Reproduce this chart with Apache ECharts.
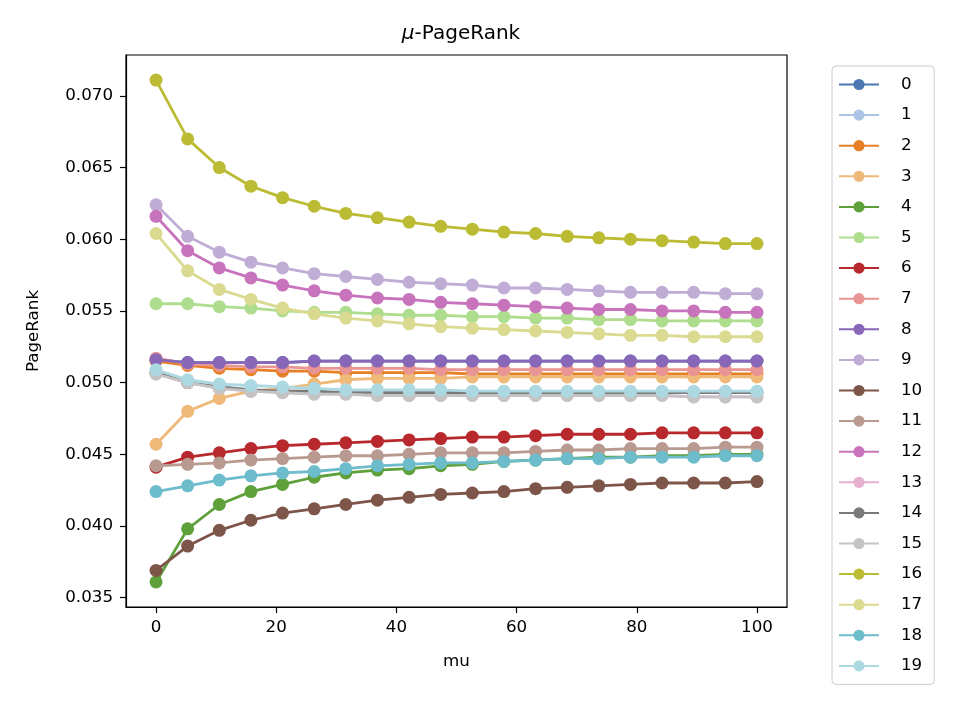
<!DOCTYPE html>
<html>
<head>
<meta charset="utf-8">
<script src="https://cdn.jsdelivr.net/npm/echarts@6/dist/echarts.min.js"></script>
<style>
html, body { margin: 0; padding: 0; background: #fff; }
#chart { width: 960px; height: 720px; }
</style>
</head>
<body>
<div id="chart"></div>
<script>
// mu values (x axis)
const muValues = [0, 5.26, 10.53, 15.79, 21.05, 26.32, 31.58, 36.84, 42.11, 47.37,
    52.63, 57.89, 63.16, 68.42, 73.68, 78.95, 84.21, 89.47, 94.74, 100];

const xTicks = [0, 20, 40, 60, 80, 100];
const yTicks = [0.035, 0.040, 0.045, 0.050, 0.055, 0.060, 0.065, 0.070];

const seriesNames = ["0", "1", "2", "3", "4", "5", "6", "7", "8", "9",
    "10", "11", "12", "13", "14", "15", "16", "17", "18", "19"];

const colors = ["#4a77b4", "#aec4e6", "#e77f24", "#efb97a", "#5ea03a",
    "#aedd8e", "#b8292e", "#e89594", "#8866b8", "#bfadd5",
    "#7e5549", "#b89a91", "#c874bd", "#e5b1cf", "#7a7a7a",
    "#c4c4c4", "#bcbb34", "#dadb90", "#6dbccc", "#acd8e2"];

// PageRank per node, one array per series
const pr0 = [0.0516, 0.0514, 0.0514, 0.0514, 0.0514, 0.0515, 0.0515, 0.0515, 0.0515, 0.0515, 0.0515, 0.0515, 0.0515, 0.0515, 0.0515, 0.0515, 0.0515, 0.0515, 0.0515, 0.0515];
const pr1 = [0.0507, 0.0500, 0.0497, 0.0495, 0.0494, 0.0494, 0.0493, 0.0493, 0.0493, 0.0493, 0.0493, 0.0493, 0.0493, 0.0493, 0.0493, 0.0493, 0.0493, 0.0493, 0.0493, 0.0493];
const pr2 = [0.0515, 0.0512, 0.0510, 0.0509, 0.0508, 0.0508, 0.0507, 0.0507, 0.0507, 0.0507, 0.0506, 0.0506, 0.0506, 0.0506, 0.0506, 0.0506, 0.0506, 0.0506, 0.0506, 0.0506];
const pr3 = [0.0457, 0.0480, 0.0489, 0.0494, 0.0496, 0.0499, 0.0502, 0.0503, 0.0503, 0.0503, 0.0504, 0.0504, 0.0504, 0.0504, 0.0504, 0.0504, 0.0504, 0.0504, 0.0504, 0.0504];
const pr4 = [0.0361, 0.0398, 0.0415, 0.0424, 0.0429, 0.0434, 0.0437, 0.0439, 0.0440, 0.0442, 0.0443, 0.0445, 0.0446, 0.0447, 0.0448, 0.0448, 0.0449, 0.0449, 0.0450, 0.0450];
const pr5 = [0.0555, 0.0555, 0.0553, 0.0552, 0.0550, 0.0549, 0.0549, 0.0548, 0.0547, 0.0547, 0.0546, 0.0546, 0.0545, 0.0545, 0.0544, 0.0544, 0.0543, 0.0543, 0.0543, 0.0543];
const pr6 = [0.0441, 0.0448, 0.0451, 0.0454, 0.0456, 0.0457, 0.0458, 0.0459, 0.0460, 0.0461, 0.0462, 0.0462, 0.0463, 0.0464, 0.0464, 0.0464, 0.0465, 0.0465, 0.0465, 0.0465];
const pr7 = [0.0517, 0.0513, 0.0512, 0.0511, 0.0511, 0.0510, 0.0510, 0.0510, 0.0510, 0.0509, 0.0509, 0.0509, 0.0509, 0.0509, 0.0509, 0.0509, 0.0509, 0.0509, 0.0509, 0.0509];
const pr8 = [0.0516, 0.0514, 0.0514, 0.0514, 0.0514, 0.0515, 0.0515, 0.0515, 0.0515, 0.0515, 0.0515, 0.0515, 0.0515, 0.0515, 0.0515, 0.0515, 0.0515, 0.0515, 0.0515, 0.0515];
const pr9 = [0.0624, 0.0602, 0.0591, 0.0584, 0.0580, 0.0576, 0.0574, 0.0572, 0.0570, 0.0569, 0.0568, 0.0566, 0.0566, 0.0565, 0.0564, 0.0563, 0.0563, 0.0563, 0.0562, 0.0562];
const pr10 = [0.0369, 0.0386, 0.0397, 0.0404, 0.0409, 0.0412, 0.0415, 0.0418, 0.0420, 0.0422, 0.0423, 0.0424, 0.0426, 0.0427, 0.0428, 0.0429, 0.0430, 0.0430, 0.0430, 0.0431];
const pr11 = [0.0442, 0.0443, 0.0444, 0.0446, 0.0447, 0.0448, 0.0449, 0.0449, 0.0450, 0.0451, 0.0451, 0.0451, 0.0452, 0.0453, 0.0453, 0.0454, 0.0454, 0.0454, 0.0455, 0.0455];
const pr12 = [0.0616, 0.0592, 0.0580, 0.0573, 0.0568, 0.0564, 0.0561, 0.0559, 0.0558, 0.0556, 0.0555, 0.0554, 0.0553, 0.0552, 0.0551, 0.0551, 0.0550, 0.0550, 0.0549, 0.0549];
const pr13 = [0.0506, 0.0500, 0.0496, 0.0494, 0.0493, 0.0492, 0.0492, 0.0491, 0.0491, 0.0491, 0.0491, 0.0491, 0.0491, 0.0491, 0.0491, 0.0491, 0.0491, 0.0490, 0.0490, 0.0490];
const pr14 = [0.0507, 0.0500, 0.0497, 0.0495, 0.0494, 0.0494, 0.0493, 0.0493, 0.0493, 0.0493, 0.0493, 0.0493, 0.0493, 0.0493, 0.0493, 0.0493, 0.0493, 0.0493, 0.0493, 0.0493];
const pr15 = [0.0506, 0.0500, 0.0496, 0.0494, 0.0493, 0.0492, 0.0492, 0.0491, 0.0491, 0.0491, 0.0491, 0.0491, 0.0491, 0.0491, 0.0491, 0.0491, 0.0491, 0.0490, 0.0490, 0.0490];
const pr16 = [0.0711, 0.0670, 0.0650, 0.0637, 0.0629, 0.0623, 0.0618, 0.0615, 0.0612, 0.0609, 0.0607, 0.0605, 0.0604, 0.0602, 0.0601, 0.0600, 0.0599, 0.0598, 0.0597, 0.0597];
const pr17 = [0.0604, 0.0578, 0.0565, 0.0558, 0.0552, 0.0548, 0.0545, 0.0543, 0.0541, 0.0539, 0.0538, 0.0537, 0.0536, 0.0535, 0.0534, 0.0533, 0.0533, 0.0532, 0.0532, 0.0532];
const pr18 = [0.0424, 0.0428, 0.0432, 0.0435, 0.0437, 0.0438, 0.0440, 0.0442, 0.0443, 0.0444, 0.0444, 0.0445, 0.0446, 0.0447, 0.0447, 0.0448, 0.0448, 0.0448, 0.0449, 0.0449];
const pr19 = [0.0509, 0.0502, 0.0499, 0.0498, 0.0497, 0.0496, 0.0495, 0.0495, 0.0495, 0.0495, 0.0494, 0.0494, 0.0494, 0.0494, 0.0494, 0.0494, 0.0494, 0.0494, 0.0494, 0.0494];

const allValues = [pr0, pr1, pr2, pr3, pr4, pr5, pr6, pr7, pr8, pr9,
    pr10, pr11, pr12, pr13, pr14, pr15, pr16, pr17, pr18, pr19];

const font = "DejaVu Sans";

let chart = echarts.init(document.getElementById("chart"), null, { renderer: "canvas" });

let series = allValues.map((vals, i) => ({
    name: seriesNames[i],
    type: "line",
    data: vals.map((v, j) => [muValues[j], v]),
    symbol: "circle",
    symbolSize: 13,
    showSymbol: true,
    color: colors[i],
    lineStyle: { width: 2.8, color: colors[i] },
    itemStyle: { color: colors[i] },
    emphasis: { disabled: true },
    z: 2 + i * 0.01
}));

let axisCommon = {
    axisLine: { show: true, onZero: false, lineStyle: { color: "#000", width: 1.2 } },
    splitLine: { show: false }
};

let options = {
    animation: false,
    backgroundColor: "#fff",
    title: {
        text: "{m|μ}-PageRank",
        left: 456,
        top: 19,
        textAlign: "center",
        textStyle: {
            fontFamily: font,
            fontSize: 20,
            fontWeight: "normal",
            color: "#000",
            rich: {
                m: { fontFamily: font, fontSize: 20, fontStyle: "italic", color: "#000" }
            }
        }
    },
    grid: {
        left: 126,
        right: 173,
        top: 55,
        bottom: 113,
        show: true,
        borderColor: "#000",
        borderWidth: 1.2,
        backgroundColor: "transparent"
    },
    legend: {
        orient: "vertical",
        left: 832,
        top: 66,
        padding: [10, 12, 10, 6],
        itemWidth: 40,
        itemHeight: 14,
        itemGap: 13.6,
        borderColor: "#cccccc",
        borderWidth: 1,
        borderRadius: 4,
        textStyle: {
            fontFamily: font,
            fontSize: 16.7,
            color: "#000",
            padding: [0, 0, 0, 17]
        },
        data: seriesNames
    },
    xAxis: Object.assign({
        type: "value",
        min: -5,
        max: 105,
        name: "mu",
        nameLocation: "middle",
        nameGap: 46,
        nameTextStyle: { fontFamily: font, fontSize: 16.7, color: "#000" },
        axisTick: {
            show: true,
            inside: false,
            length: 6,
            lineStyle: { color: "#000", width: 1.2 },
            customValues: xTicks
        },
        axisLabel: {
            fontFamily: font,
            fontSize: 16.7,
            color: "#000",
            margin: 12,
            customValues: xTicks,
            formatter: v => String(v)
        }
    }, axisCommon),
    yAxis: Object.assign({
        type: "value",
        min: 0.03435,
        max: 0.07285,
        name: "PageRank",
        nameLocation: "middle",
        nameGap: 84,
        nameRotate: 90,
        nameTextStyle: { fontFamily: font, fontSize: 16.7, color: "#000" },
        axisTick: {
            show: true,
            inside: false,
            length: 6,
            lineStyle: { color: "#000", width: 1.2 },
            customValues: yTicks
        },
        axisLabel: {
            fontFamily: font,
            fontSize: 16.7,
            color: "#000",
            margin: 13,
            customValues: yTicks,
            formatter: v => v.toFixed(3)
        }
    }, axisCommon),
    series: series
};
chart.setOption(options);
</script>
</body>
</html>
